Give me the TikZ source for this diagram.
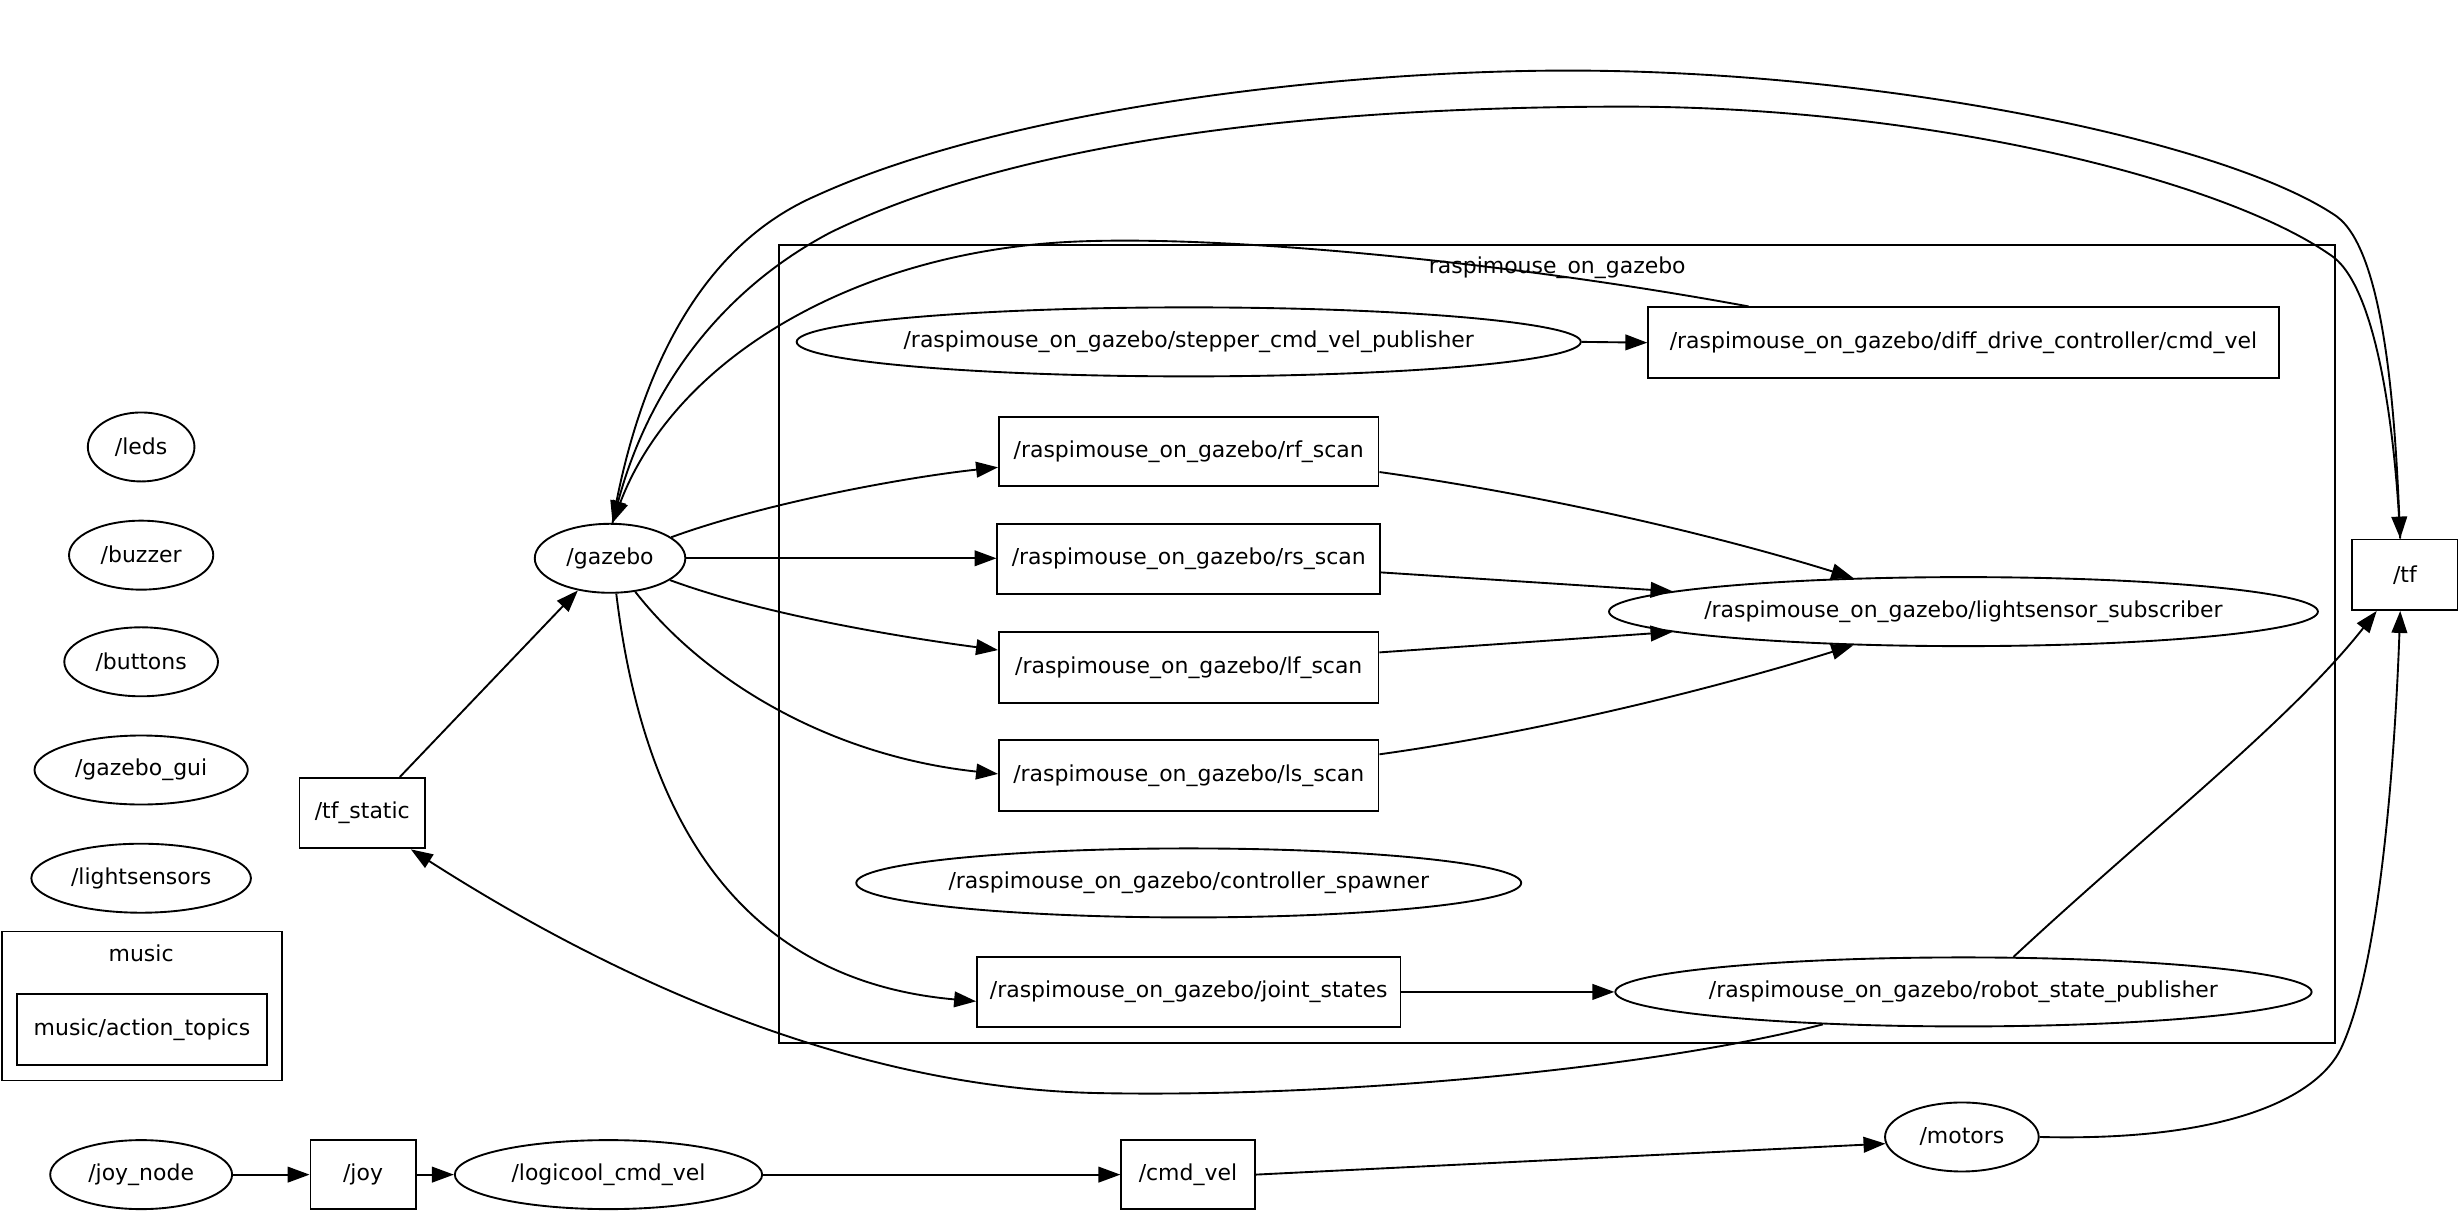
\documentclass[tikz,border=0pt]{standalone}
\usepackage{fontspec}
\setmainfont{DejaVu Sans}
\usetikzlibrary{shapes.geometric,arrows.meta,calc}
% zero-width label so that node sizes come only from the given minimum sizes
\newcommand{\lbl}[1]{\makebox[0pt]{#1}}
\begin{document}
\begin{tikzpicture}[x=1pt,y=-1pt,line width=1.2pt,
  font=\fontsize{14}{16}\selectfont,
  topic/.style={draw,rectangle,inner sep=0pt,minimum height=45pt},
  proc/.style={draw,ellipse,inner sep=0pt,minimum height=44pt},
  grp/.style={draw,rectangle,inner sep=0pt},
  arr/.style={-{Triangle[length=14pt,width=10pt]}}]
\useasboundingbox (0,0) rectangle (1568,773);

% groups
\node[grp,minimum width=179pt,minimum height=95pt] (music) at (90.5,641.5) {};
\node (musiclbl) at (90,608) {music};
\node[grp,minimum width=992pt,minimum height=509pt] (rog) at (993,410.5) {};
\node (roglbl) at (993,171) {raspimouse\_on\_gazebo};

% stand-alone nodes
\node[proc,minimum width=68pt]  (leds)         at (90,285) {\lbl{/leds}};
\node[proc,minimum width=92pt]  (buzzer)       at (90,354) {\lbl{/buzzer}};
\node[proc,minimum width=98pt]  (buttons)      at (90,422) {\lbl{/buttons}};
\node[proc,minimum width=136pt] (gazebogui)    at (90,491) {\lbl{/gazebo\_gui}};
\node[proc,minimum width=140pt] (lightsensors) at (90,560) {\lbl{/lightsensors}};
\node[topic,minimum width=159pt] (actiontopics) at (90.5,656.5) {\lbl{music/action\_topics}};

% joystick chain
\node[proc,minimum width=116pt] (joynode)  at (90,749)    {\lbl{/joy\_node}};
\node[topic,minimum width=67pt,minimum height=44pt] (joy) at (231.5,749) {\lbl{/joy}};
\node[proc,minimum width=196pt] (logicool) at (388,749)   {\lbl{/logicool\_cmd\_vel}};
\node[topic,minimum width=85pt,minimum height=44pt] (cmdvel) at (757.5,749) {\lbl{/cmd\_vel}};
\node[proc,minimum width=98pt]  (motors)   at (1251,725)  {\lbl{/motors}};

% tf topics and gazebo
\node[topic,minimum width=67pt] (tf)       at (1533.5,366.5) {\lbl{/tf}};
\node[topic,minimum width=80pt] (tfstatic) at (231,518.5)    {\lbl{/tf\_static}};
\node[proc,minimum width=96pt]  (gazebo)   at (389,356)      {\lbl{/gazebo}};

% raspimouse_on_gazebo namespace
\node[proc,minimum width=500pt]  (stepper) at (758,218)   {\lbl{/raspimouse\_on\_gazebo/stepper\_cmd\_vel\_publisher}};
\node[topic,minimum width=402pt] (diff)    at (1252,218.5) {\lbl{/raspimouse\_on\_gazebo/diff\_drive\_controller/cmd\_vel}};
\node[topic,minimum width=242pt,minimum height=44pt] (rf) at (758,288) {\lbl{/raspimouse\_on\_gazebo/rf\_scan}};
\node[topic,minimum width=244pt] (rs)      at (758,356.5) {\lbl{/raspimouse\_on\_gazebo/rs\_scan}};
\node[topic,minimum width=242pt] (lf)      at (758,425.5) {\lbl{/raspimouse\_on\_gazebo/lf\_scan}};
\node[topic,minimum width=242pt] (ls)      at (758,494.5) {\lbl{/raspimouse\_on\_gazebo/ls\_scan}};
\node[proc,minimum width=452pt]  (lss)     at (1252,390)  {\lbl{/raspimouse\_on\_gazebo/lightsensor\_subscriber}};
\node[proc,minimum width=424pt]  (spawner) at (758,563)   {\lbl{/raspimouse\_on\_gazebo/controller\_spawner}};
\node[topic,minimum width=270pt] (joint)   at (758,632.5) {\lbl{/raspimouse\_on\_gazebo/joint\_states}};
\node[proc,minimum width=444pt]  (rsp)     at (1252,632.5) {\lbl{/raspimouse\_on\_gazebo/robot\_state\_publisher}};

% joystick chain edges
\draw[arr] (joynode.east) -- (joy.west);
\draw[arr] (joy.east) -- (logicool.west);
\draw[arr] (logicool.east) -- (cmdvel.west);
\draw[arr] (cmdvel.east) -- (motors.-175);
\draw[arr] (motors.east) .. controls (1420,728) and (1478,700) .. (1493,668)
  .. controls (1520,610) and (1528,460) .. ($(tf.south)+(-3,0)$);

% gazebo publishers
\draw[arr] (gazebo.19) .. controls (490,320) and (580,304) .. ($(rf.west)+(0,10)$);
\draw[arr] (gazebo.east) -- ($(rs.west)+(0,-0.5)$);
\draw[arr] (gazebo.-20) .. controls (490,393) and (580,407) .. ($(lf.west)+(0,-11)$);
\draw[arr] (gazebo.-53) .. controls (450,435) and (530,482) .. ($(ls.west)+(0,-1)$);
\draw[arr] (gazebo.-80) .. controls (410,520) and (470,625) .. ($(joint.west)+(0,6)$);

% light sensor scans
\draw[arr] ($(rf.east)+(0,13)$) .. controls (980,315) and (1090,340) .. (lss.163);
\draw[arr] ($(rs.east)+(0,8.5)$) -- (lss.176);
\draw[arr] ($(lf.east)+(0,-9.5)$) -- (lss.-176);
\draw[arr] ($(ls.east)+(0,-13.5)$) .. controls (980,467) and (1090,440) .. (lss.-163);

\draw[arr] (stepper.east) -- (diff.west);
\draw[arr] (joint.east) -- (rsp.west);

% robot_state_publisher outputs
\draw[arr] (rsp.35) .. controls (1370,530) and (1460,460) .. ($(tf.south)+(-18,0)$);
\draw[arr] (rsp.-167) .. controls (1050,682) and (850,700) .. (700,697)
  .. controls (550,694) and (400,630) .. ($(tfstatic.south)+(31,0)$);
\draw[arr] ($(tfstatic.north)+(24,0)$) -- (gazebo.-135);

% edges into and out of gazebo over the top
\draw[arr] ($(diff.north)+(-137,0)$) .. controls (950,165) and (760,148) .. (670,155)
  .. controls (540,165) and (430,230) .. (gazebo.86);
\draw[arr] (gazebo.86) .. controls (405,250) and (440,160) .. (520,125)
  .. controls (640,70) and (850,45) .. (1000,45)
  .. controls (1200,45) and (1420,90) .. (1490,138)
  .. controls (1520,160) and (1527,260) .. ($(tf.north)+(-3,0)$);
\draw[arr] ($(tf.north)+(-3,0)$) .. controls (1527,270) and (1515,185) .. (1488,164)
  .. controls (1420,115) and (1230,68) .. (1036,68)
  .. controls (860,68) and (660,85) .. (530,148)
  .. controls (450,190) and (410,260) .. (gazebo.86);
\end{tikzpicture}
\end{document}
